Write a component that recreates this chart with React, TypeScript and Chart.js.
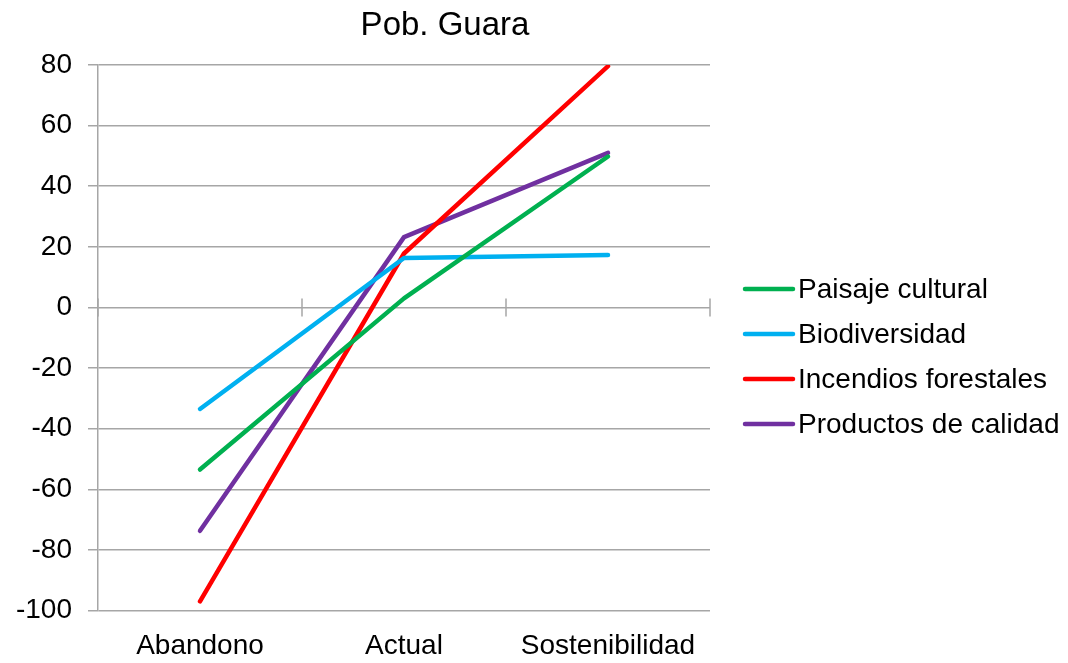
import React, { useEffect, useRef } from "react";
import { Chart, registerables } from "chart.js";

Chart.register(...registerables);

const title = "Pob. Guara";
const categories = ["Abandono", "Actual", "Sostenibilidad"];
const seriesNames = ["Paisaje cultural", "Biodiversidad", "Incendios forestales", "Productos de calidad"];
const paisaje = [-53.5, 3, 49.8];
const biodiversidad = [-33.5, 16.3, 17.3];
const incendios = [-97, 17.8, 79.6];
const productos = [-73.7, 23.2, 51];
const seriesColors = ["#00B050", "#00B0F0", "#FF0000", "#7030A0"];
const yMin = -100;
const yMax = 80;
const yStep = 20;

const FONT = "'Liberation Sans', Arial, sans-serif";

export default function App() {
  const ref = useRef<HTMLCanvasElement | null>(null);

  useEffect(() => {
    const canvas = ref.current;
    if (!canvas) return;
    const values = [paisaje, biodiversidad, incendios, productos];

    const extras = {
      id: "extras",
      beforeDatasetsDraw(chart: any) {
        const { ctx, chartArea, scales } = chart;
        const y0 = scales.y.getPixelForValue(0);
        const n = categories.length;
        ctx.save();
        ctx.strokeStyle = "#a6a6a6";
        ctx.lineWidth = 1.5;
        for (let i = 0; i <= n; i++) {
          const x = chartArea.left + (i * (chartArea.right - chartArea.left)) / n;
          ctx.beginPath();
          ctx.moveTo(x, y0 - 9);
          ctx.lineTo(x, y0 + 9);
          ctx.stroke();
        }
        ctx.restore();
      },
      afterDraw(chart: any) {
        const { ctx, chartArea } = chart;
        ctx.save();
        ctx.fillStyle = "#000";
        ctx.font = `33px ${FONT}`;
        ctx.textAlign = "center";
        ctx.textBaseline = "middle";
        ctx.fillText(title, 445, 26);

        ctx.font = `28px ${FONT}`;
        ctx.textAlign = "left";
        const lx = chartArea.right + 35;
        const top = 289;
        seriesNames.forEach((name, i) => {
          const yy = top + i * 45;
          ctx.strokeStyle = seriesColors[i];
          ctx.lineWidth = 4.5;
          ctx.lineCap = "round";
          ctx.beginPath();
          ctx.moveTo(lx, yy);
          ctx.lineTo(lx + 48, yy);
          ctx.stroke();
          ctx.fillStyle = "#000";
          ctx.fillText(name, lx + 53, yy + 1);
        });
        ctx.restore();
      },
    };

    const chart = new Chart(canvas, {
      type: "line",
      data: {
        labels: categories,
        datasets: seriesNames.map((name, i) => ({
          label: name,
          data: values[i],
          borderColor: seriesColors[i],
          backgroundColor: seriesColors[i],
          borderWidth: 4.5,
          pointRadius: 0,
          tension: 0,
          borderCapStyle: "round",
          borderJoinStyle: "round",
        })),
      },
      options: {
        animation: false,
        responsive: false,
        maintainAspectRatio: false,
        layout: { padding: { left: 16, right: 358, top: 65, bottom: 0 } },
        plugins: {
          legend: { display: false },
          title: { display: false },
          tooltip: { enabled: false },
        },
        scales: {
          x: {
            offset: true,
            afterFit(scale: any) {
              scale.height = 52.5;
            },
            grid: { display: false, drawTicks: false },
            border: { display: false },
            ticks: {
              color: "#000",
              font: { family: FONT, size: 28 },
              padding: 19,
              maxRotation: 0,
            },
          },
          y: {
            min: yMin,
            max: yMax,
            afterFit(scale: any) {
              scale.width = 82;
            },
            grid: { color: "#a6a6a6", lineWidth: 1.5, tickLength: 10, drawTicks: true },
            border: { display: true, color: "#a6a6a6", width: 1.5 },
            ticks: {
              stepSize: yStep,
              color: "#000",
              font: { family: FONT, size: 28 },
              padding: 16,
            },
          },
        },
      },
      plugins: [extras],
    } as any);

    return () => chart.destroy();
  }, []);

  return (
    <div style={{ position: "fixed", left: 0, top: 0, width: 1068, height: 663, background: "#fff" }}>
      <canvas ref={ref} width={1068} height={663} style={{ display: "block", width: 1068, height: 663 }} />
    </div>
  );
}
